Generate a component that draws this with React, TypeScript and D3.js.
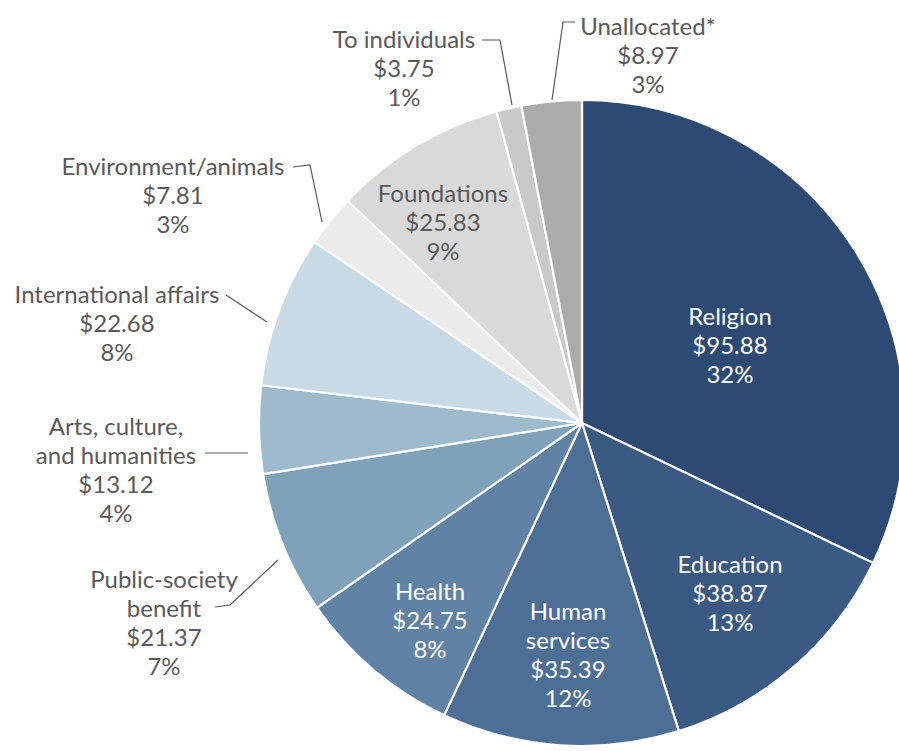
import React from "react";
import * as d3 from "d3";

const categories = [
  "Religion",
  "Education",
  "Human services",
  "Health",
  "Public-society benefit",
  "Arts, culture, and humanities",
  "International affairs",
  "Environment/animals",
  "Foundations",
  "To individuals",
  "Unallocated*",
];
const values = [95.88, 38.87, 35.39, 24.75, 21.37, 13.12, 22.68, 7.81, 25.83, 3.75, 8.97];
const percentLabels = ["32%", "13%", "12%", "8%", "7%", "4%", "8%", "3%", "9%", "1%", "3%"];
const nameLines = [
  ["Religion"],
  ["Education"],
  ["Human", "services"],
  ["Health"],
  ["Public-society", "benefit"],
  ["Arts, culture,", "and humanities"],
  ["International affairs"],
  ["Environment/animals"],
  ["Foundations"],
  ["To individuals"],
  ["Unallocated*"],
];
const colors = [
  "#2d4a74",
  "#3a5a83",
  "#4d6e95",
  "#6082a4",
  "#7fa2ba",
  "#9ebbcd",
  "#c8dae6",
  "#ebebeb",
  "#d9d9d9",
  "#c9c9c9",
  "#ababab",
];

// annotation layout (label anchor = center x, first line center y)
const labelLayout: { x: number; y: number; inside: boolean; leader?: [number, number][] }[] = [
  { x: 730, y: 315, inside: true },
  { x: 730, y: 563, inside: true },
  { x: 568, y: 610, inside: true },
  { x: 430, y: 590, inside: true },
  { x: 164, y: 578, inside: false, leader: [[215, 607], [230, 605], [278, 560]] },
  { x: 116, y: 425, inside: false, leader: [[205, 453], [248, 453]] },
  { x: 117, y: 293, inside: false, leader: [[226, 295], [267, 322]] },
  { x: 173, y: 165, inside: false, leader: [[293, 167], [310, 165], [322, 222]] },
  { x: 443, y: 192, inside: false },
  { x: 404, y: 38, inside: false, leader: [[482, 40], [500, 40], [512, 105]] },
  { x: 648, y: 25, inside: false, leader: [[575, 22], [563, 22], [552, 100]] },
];

const W = 899;
const H = 751;
const CX = 582;
const CY = 423;
const R = 323;
const LINE = 29;
const FONT = "Lato, 'Open Sans', sans-serif";
const FS = 24;

export default function App() {
  const data = categories.map((c, i) => ({ c, v: values[i], i }));
  const pie = d3.pie<any>().sort(null).value((d) => d.v).startAngle(0).endAngle(2 * Math.PI);
  const arcs = pie(data);
  const arc = d3.arc<any>().innerRadius(0).outerRadius(R);
  const line = d3.line();

  return (
    <svg
      width={W}
      height={H}
      style={{ position: "absolute", left: 0, top: 0, background: "#fff" }}
    >
      <g transform={`translate(${CX},${CY})`}>
        {arcs.map((a, i) => (
          <path key={i} d={arc(a) || ""} fill={colors[i]} stroke="#fff" strokeWidth={2.2} strokeLinejoin="round" />
        ))}
      </g>
      {labelLayout.map((l, i) =>
        l.leader ? (
          <path key={"ld" + i} d={line(l.leader) || ""} fill="none" stroke="#595959" strokeWidth={1.2} />
        ) : null
      )}
      {labelLayout.map((l, i) => {
        const lines = [...nameLines[i], "$" + values[i].toFixed(2), percentLabels[i]];
        return (
          <text
            key={"t" + i}
            x={l.x}
            textAnchor="middle"
            fontFamily={FONT}
            fontSize={FS}
            fill={l.inside ? "#ffffff" : "#5a5a5a"}
          >
            {lines.map((s, k) => (
              <tspan key={k} x={l.x} y={l.y + k * LINE} dominantBaseline="central">
                {s}
              </tspan>
            ))}
          </text>
        );
      })}
    </svg>
  );
}
